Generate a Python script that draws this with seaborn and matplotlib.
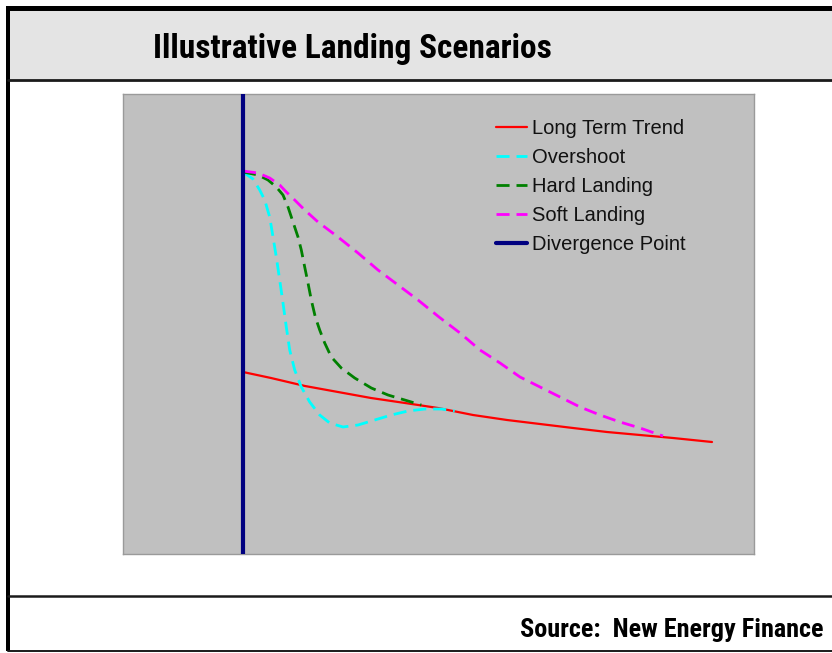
import matplotlib
matplotlib.use("Agg")
import matplotlib.pyplot as plt
from matplotlib.patches import Rectangle
from matplotlib.lines import Line2D
from matplotlib import font_manager as fm
import pandas as pd
import seaborn as sns

# Scenario paths (time since divergence, indexed price level)
trend_x = [0, 2.8, 6.2, 9.5, 12.8, 16.2, 19.5, 23.0, 26.4, 29.7, 33.0, 36.4, 39.7, 43.0, 46.9]
trend_y = [18.2, 17.6, 16.8, 16.2, 15.6, 15.1, 14.6, 13.9, 13.4, 13.0, 12.6, 12.2, 11.9, 11.6, 11.2]

overshoot_x = [0, 1.0, 1.67, 2.17, 2.67, 3.0, 3.33, 3.67, 4.0, 4.33, 4.67, 5.17, 5.83,
               6.67, 7.67, 8.67, 10.0, 11.5, 13.17, 14.83, 16.5, 18.17, 19.83, 21.17]
overshoot_y = [38.2, 37.5, 36.4, 35.4, 33.7, 31.7, 29.7, 27.4, 25.1, 22.7, 20.4, 18.4, 16.7,
               15.2, 13.9, 13.1, 12.7, 12.9, 13.4, 13.9, 14.3, 14.5, 14.5, 14.3]

hard_x = [0, 1.5, 2.5, 3.33, 4.0, 4.5, 5.0, 5.5, 5.83, 6.17, 6.5, 6.83, 7.23, 7.67, 8.17,
          8.83, 9.83, 11.17, 12.83, 14.5, 16.17, 17.83]
hard_y = [38.2, 37.9, 37.4, 36.7, 35.9, 34.7, 33.2, 31.7, 30.4, 28.7, 27.1, 25.4, 23.7, 22.4,
          21.1, 19.7, 18.6, 17.6, 16.6, 15.9, 15.4, 14.9]

soft_x = [0, 1.5, 2.67, 3.67, 4.33, 5.17, 6.17, 7.5, 9.5, 11.5, 13.5, 15.5, 17.5, 19.6,
          21.7, 23.7, 25.7, 27.7, 29.7, 31.7, 33.7, 35.7, 37.7, 39.7, 42.0]
soft_y = [38.3, 38.1, 37.6, 36.9, 36.2, 35.4, 34.4, 33.2, 31.7, 30.1, 28.4, 26.9, 25.4, 23.7,
          22.1, 20.4, 19.1, 17.7, 16.7, 15.7, 14.7, 13.9, 13.2, 12.6, 11.8]

divergence_x = 0

labels = ["Long Term Trend", "Overshoot", "Hard Landing", "Soft Landing", "Divergence Point"]
colors = ["#ff0000", "#00ffff", "#008000", "#ff00ff", "#000080"]

sns.set_theme(style="white")
plt.rcParams["font.family"] = ["Liberation Sans", "DejaVu Sans"]

# Pick a condensed sans for the heading and source line
installed = {f.name for f in fm.fontManager.ttflist}
narrow = next((n for n in ["Liberation Sans Narrow", "Arial Narrow", "Roboto Condensed",
                           "Archivo Narrow", "PT Sans Narrow", "Pragati Narrow"]
               if n in installed), "Liberation Sans")
heading_family = [narrow, "DejaVu Sans"]

W, H = 832, 653
fig = plt.figure(figsize=(W / 100, H / 100), dpi=100)
fig.patch.set_facecolor("white")


def fx(px):
    return px / W


def fy(py):
    return 1 - py / H


# Page frame: title band, separators and borders
fig.patches.append(Rectangle((fx(8), fy(80)), fx(W), 69 / H, transform=fig.transFigure,
                             facecolor="#e4e4e4", edgecolor="none", zorder=0))
fig.patches.append(Rectangle((fx(6), fy(11)), fx(W), 5 / H, transform=fig.transFigure,
                             facecolor="black", edgecolor="none", zorder=1))
fig.patches.append(Rectangle((fx(6), fy(651)), 4 / W, 645 / H, transform=fig.transFigure,
                             facecolor="black", edgecolor="none", zorder=1))
for yline, lw in [(80, 2.0), (595.5, 1.8), (650.5, 1.4)]:
    fig.add_artist(Line2D([fx(8), 1], [fy(yline), fy(yline)], transform=fig.transFigure,
                          color="#1a1a1a", lw=lw))

fig.text(fx(153), fy(58), "Illustrative Landing Scenarios", ha="left", va="baseline",
         fontsize=24, fontweight="bold", family=heading_family, color="black")
fig.text(fx(823), fy(637), "Source:  New Energy Finance", ha="right", va="baseline",
         fontsize=18.9, fontweight="bold", family=heading_family, color="black")

ax = fig.add_axes([fx(123), fy(554), 631 / W, 460 / H])
ax.set_facecolor("#c0c0c0")
for s in ax.spines.values():
    s.set_color("#9a9a9a")
    s.set_linewidth(1.0)

trend = pd.DataFrame({"t": trend_x, "v": trend_y})
over = pd.DataFrame({"t": overshoot_x, "v": overshoot_y})
hard = pd.DataFrame({"t": hard_x, "v": hard_y})
soft = pd.DataFrame({"t": soft_x, "v": soft_y})

dash = (0, (4.7, 2.5))
sns.lineplot(data=trend, x="t", y="v", ax=ax, color=colors[0], lw=1.6, label=labels[0],
             sort=False, estimator=None)
sns.lineplot(data=over, x="t", y="v", ax=ax, color=colors[1], lw=2.0, label=labels[1],
             sort=False, estimator=None, linestyle=dash)
sns.lineplot(data=hard, x="t", y="v", ax=ax, color=colors[2], lw=2.0, label=labels[2],
             sort=False, estimator=None, linestyle=dash)
sns.lineplot(data=soft, x="t", y="v", ax=ax, color=colors[3], lw=2.0, label=labels[3],
             sort=False, estimator=None, linestyle=dash)
ax.axvline(divergence_x, color=colors[4], lw=3, label=labels[4], zorder=5)

ax.set_xlim(-12, 51.1)
ax.set_ylim(0, 46)
ax.set_xticks([])
ax.set_yticks([])
ax.set_xlabel("")
ax.set_ylabel("")

leg = ax.legend(loc="upper left", bbox_to_anchor=(0.578, 0.963), frameon=False,
                fontsize=14.5, handlelength=1.55, handletextpad=0.25, labelspacing=0.5,
                borderaxespad=0)
for t in leg.get_texts():
    t.set_color("#111111")

fig.savefig("out.png", dpi=100)
